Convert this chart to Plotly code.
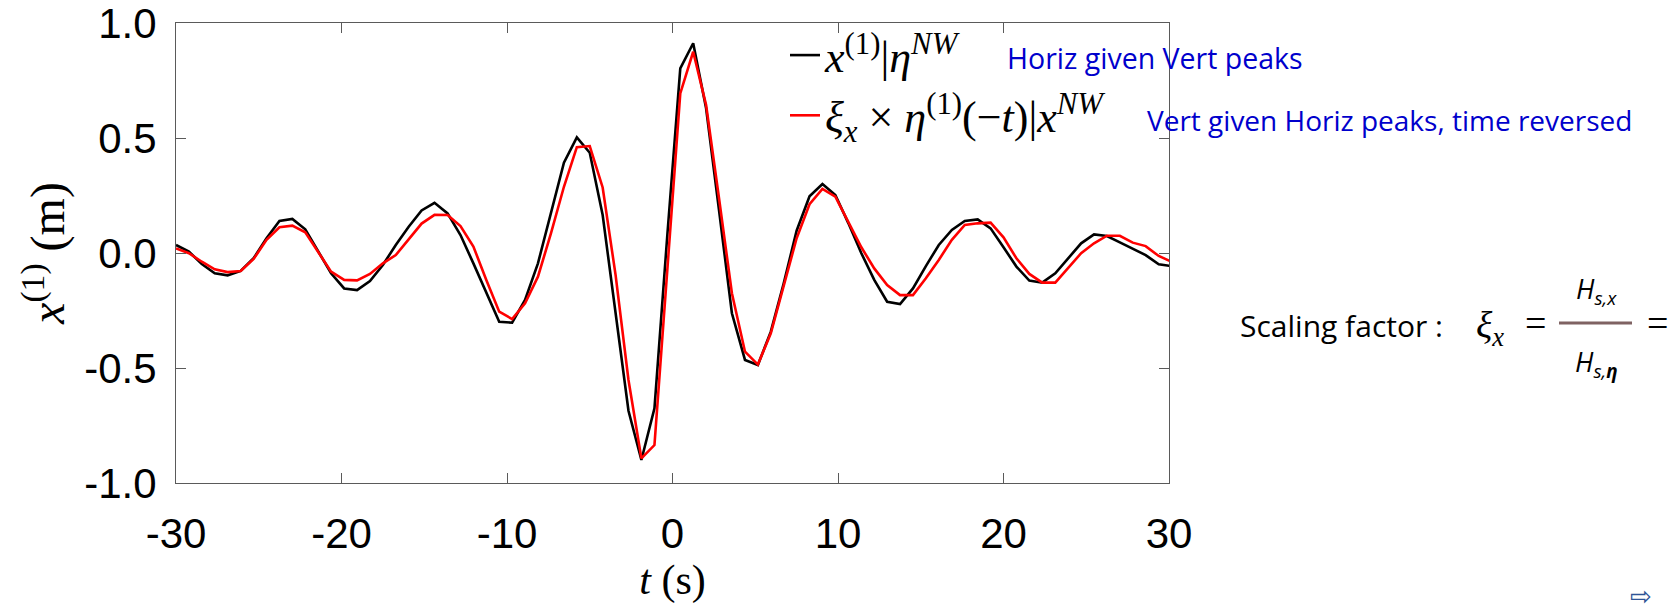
import plotly.graph_objects as go

# Time axis (s), sampled every 0.78125 s
t = [-30.00, -29.22, -28.44, -27.66, -26.88, -26.09, -25.31, -24.53, -23.75, -22.97,
     -22.19, -21.41, -20.63, -19.84, -19.06, -18.28, -17.50, -16.72, -15.94, -15.16,
     -14.38, -13.59, -12.81, -12.03, -11.25, -10.47, -9.69, -8.91, -8.13, -7.34,
     -6.56, -5.78, -5.00, -4.22, -3.44, -2.66, -1.88, -1.09, -0.31, 0.47,
     1.25, 2.03, 2.81, 3.59, 4.38, 5.16, 5.94, 6.72, 7.50, 8.28,
     9.06, 9.84, 10.63, 11.41, 12.19, 12.97, 13.75, 14.53, 15.31, 16.09,
     16.88, 17.66, 18.44, 19.22, 20.00, 20.78, 21.56, 22.34, 23.13, 23.91,
     24.69, 25.47, 26.25, 27.03, 27.81, 28.59, 29.38, 30.16]

# Horizontal response conditioned on vertical NewWave peaks
x_given_eta = [0.035, 0.006, -0.048, -0.088, -0.097, -0.078, -0.023, 0.064, 0.139, 0.148,
               0.103, 0.006, -0.088, -0.154, -0.161, -0.122, -0.052, 0.035, 0.114, 0.185,
               0.218, 0.172, 0.078, -0.045, -0.175, -0.299, -0.303, -0.204, -0.045, 0.172,
               0.393, 0.503, 0.436, 0.165, -0.270, -0.686, -0.900, -0.675, 0.080, 0.803,
               0.912, 0.629, 0.187, -0.262, -0.465, -0.487, -0.342, -0.132, 0.097, 0.247,
               0.300, 0.252, 0.129, -0.001, -0.117, -0.212, -0.222, -0.154, -0.057, 0.035,
               0.100, 0.139, 0.146, 0.107, 0.025, -0.059, -0.120, -0.129, -0.088, -0.023,
               0.042, 0.081, 0.074, 0.046, 0.020, -0.009, -0.049, -0.057]

# Scaled, time-reversed vertical response conditioned on horizontal NewWave peaks
eta_given_x = [0.020, -0.001, -0.038, -0.071, -0.083, -0.078, -0.026, 0.057, 0.112, 0.119,
               0.090, 0.003, -0.081, -0.117, -0.119, -0.091, -0.045, -0.009, 0.060, 0.128,
               0.166, 0.165, 0.117, 0.028, -0.117, -0.255, -0.287, -0.219, -0.103, 0.086,
               0.288, 0.460, 0.465, 0.285, -0.095, -0.552, -0.893, -0.835, -0.070, 0.694,
               0.875, 0.643, 0.238, -0.175, -0.429, -0.485, -0.349, -0.146, 0.064, 0.212,
               0.279, 0.245, 0.136, 0.025, -0.067, -0.139, -0.183, -0.183, -0.110, -0.030,
               0.057, 0.122, 0.129, 0.132, 0.068, -0.023, -0.091, -0.129, -0.129, -0.067,
               -0.001, 0.042, 0.075, 0.075, 0.045, 0.030, -0.013, -0.038]

x_ticks = [-30, -20, -10, 0, 10, 20, 30]
x_tick_labels = ["-30", "-20", "-10", "0", "10", "20", "30"]
y_ticks = [1.0, 0.5, 0.0, -0.5, -1.0]
y_tick_labels = ["1.0", "0.5", "0.0", "-0.5", "-1.0"]

W, H = 1668, 611
L, R, T, B = 176, 499, 23, 128
PW, PH = W - L - R, H - T - B


def px(x):
    return (x - L) / PW


def py(y):
    return (H - B - y) / PH


SERIF = "Liberation Serif, DejaVu Serif, serif"
SANS = "Liberation Sans, Arial, sans-serif"
CAL = "Open Sans, Noto Sans, sans-serif"

fig = go.Figure()
fig.add_trace(go.Scatter(
    x=t, y=x_given_eta, mode="lines",
    line=dict(color="black", width=2.6),
    name="<i>x</i><sup>(1)</sup>|<i>η<sup>NW</sup></i>",
))
fig.add_trace(go.Scatter(
    x=t, y=eta_given_x, mode="lines",
    line=dict(color="#ff0000", width=2.6),
    name="<i>ξ<sub>x</sub></i> × <i>η</i><sup>(1)</sup>(−<i>t</i>)|<i>x<sup>NW</sup></i>",
))

axis_common = dict(
    showline=True, linecolor="#5a5a5a", linewidth=1, mirror="ticks",
    ticks="inside", ticklen=10, tickcolor="#5a5a5a", tickwidth=1,
    showgrid=False, zeroline=False, automargin=False,
    ticklabeloverflow="allow",
    tickfont=dict(family=SANS, size=42, color="black"),
)

fig.update_xaxes(
    range=[-30, 30], tickvals=x_ticks, ticktext=x_tick_labels,
    ticklabelstandoff=14,
    title=dict(text="<i>t</i> (s)", font=dict(family=SERIF, size=42, color="black"), standoff=4),
    **axis_common,
)
fig.update_yaxes(
    range=[-1.0, 1.0], tickvals=y_ticks, ticktext=y_tick_labels,
    ticklabelstandoff=10,
    title=dict(text="<i>x</i><sup>(1)</sup> (m)", font=dict(family=SERIF, size=48, color="black"), standoff=4),
    **axis_common,
)

annotations = [
    dict(x=px(1005), y=py(58), text="Horiz given Vert peaks", xanchor="left", yanchor="middle",
         font=dict(family=CAL, size=28.5, color="#0000cc")),
    dict(x=px(1145), y=py(120), text="Vert given Horiz peaks, time reversed", xanchor="left", yanchor="middle",
         font=dict(family=CAL, size=28, color="#0000cc")),
    dict(x=px(1238), y=py(325), text="Scaling factor :", xanchor="left", yanchor="middle",
         font=dict(family=CAL, size=30, color="black")),
    dict(x=px(1490), y=py(328), text="<i>ξ<sub>x</sub></i>", xanchor="center", yanchor="middle",
         font=dict(family=SERIF, size=38, color="black")),
    dict(x=px(1535), y=py(323), text="=", xanchor="center", yanchor="middle",
         font=dict(family=SERIF, size=38, color="black")),
    dict(x=px(1596), y=py(290), text="<i>H<sub>s,x</sub></i>", xanchor="center", yanchor="middle",
         font=dict(family=CAL, size=27, color="black")),
    dict(x=px(1596), y=py(363), text="<i>H<sub>s,<b>η</b></sub></i>", xanchor="center", yanchor="middle",
         font=dict(family=CAL, size=27, color="black")),
    dict(x=px(1657), y=py(323), text="=", xanchor="center", yanchor="middle",
         font=dict(family=SERIF, size=38, color="black")),
    dict(x=px(1641), y=py(596), text="⇨", xanchor="center", yanchor="middle",
         font=dict(family="DejaVu Sans", size=26, color="#2f5597")),
]
for a in annotations:
    a.update(xref="paper", yref="paper", showarrow=False)

fig.add_shape(type="line", xref="paper", yref="paper",
              x0=px(1559), x1=px(1632), y0=py(323), y1=py(323),
              line=dict(color="#7f6262", width=3))

fig.update_layout(
    width=W, height=H,
    margin=dict(l=L, r=R, t=T, b=B, pad=0),
    paper_bgcolor="white", plot_bgcolor="white",
    showlegend=True,
    legend=dict(
        x=px(785), y=py(20), xanchor="left", yanchor="top",
        bgcolor="rgba(0,0,0,0)", borderwidth=0,
        font=dict(family=SERIF, size=44, color="black"),
        tracegroupgap=0,
    ),
    annotations=annotations,
)

fig.write_html("out.html")
